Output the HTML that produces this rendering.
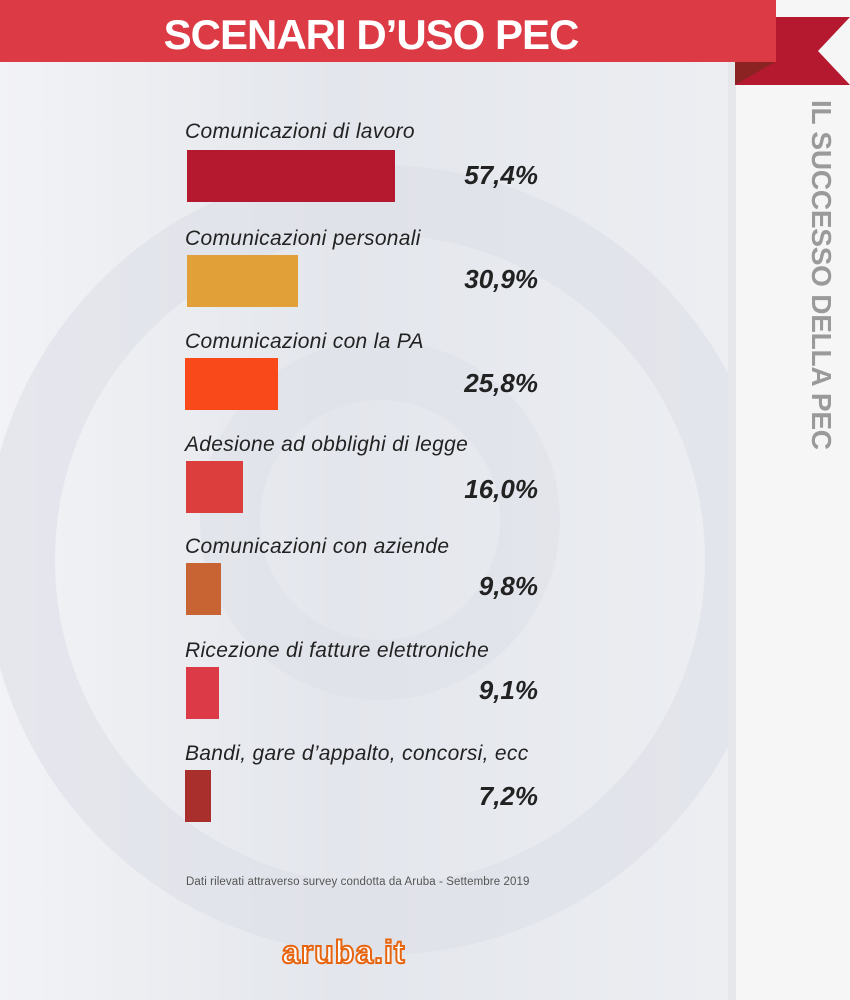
<!DOCTYPE html>
<html><head><meta charset="utf-8"><style>
body{margin:0}
#c{position:relative;width:850px;height:1000px;overflow:hidden;background:linear-gradient(90deg,#f2f3f6 0%,#e3e6ec 40%,#eceef2 85%);font-family:"Liberation Sans",sans-serif}
.lab{position:absolute;left:185px;font-size:21px;font-style:italic;color:#222;letter-spacing:0.3px}
.bar{position:absolute;height:52px}
.val{position:absolute;right:312px;font-size:26px;font-weight:bold;font-style:italic;color:#222}
</style></head><body><div id="c">
<svg style="position:absolute;left:0;top:0" width="850" height="1000">
<circle cx="380" cy="560" r="360" fill="none" stroke="#dde0e7" stroke-width="70" opacity="0.6"/>
<circle cx="380" cy="520" r="150" fill="none" stroke="#dde0e7" stroke-width="60" opacity="0.5"/>
<rect x="735" y="0" width="115" height="1000" fill="#f6f6f7"/>
<rect x="728" y="0" width="8" height="1000" fill="#e6e7ea"/>
<polygon points="735,17 850,17 818,51 850,85 735,85" fill="#b5192f"/>
<polygon points="735,62 775,62 735,85" fill="#8c2323"/>
<rect x="0" y="0" width="776" height="62" fill="#dc3a45"/>
<text x="371" y="49" text-anchor="middle" font-family="Liberation Sans" font-weight="bold" font-size="42" fill="#fff" letter-spacing="-1">SCENARI D’USO PEC</text>
<text transform="translate(812,100) rotate(90)" font-family="Liberation Sans" font-weight="bold" font-size="28" fill="#9a9a9a" textLength="350">IL SUCCESSO DELLA PEC</text>
</svg>
<div class="lab" style="top:120px">Comunicazioni di lavoro</div>
<div class="bar" style="left:187px;top:150px;width:208px;background:#b5192f"></div>
<div class="val" style="top:160px">57,4%</div>
<div class="lab" style="top:227px">Comunicazioni personali</div>
<div class="bar" style="left:187px;top:255px;width:111px;background:#e1a038"></div>
<div class="val" style="top:264px">30,9%</div>
<div class="lab" style="top:330px">Comunicazioni con la PA</div>
<div class="bar" style="left:185px;top:358px;width:93px;background:#f9481a"></div>
<div class="val" style="top:368px">25,8%</div>
<div class="lab" style="top:433px">Adesione ad obblighi di legge</div>
<div class="bar" style="left:186px;top:461px;width:57px;background:#dc3d3d"></div>
<div class="val" style="top:474px">16,0%</div>
<div class="lab" style="top:535px">Comunicazioni con aziende</div>
<div class="bar" style="left:186px;top:563px;width:35px;background:#c86434"></div>
<div class="val" style="top:571px">9,8%</div>
<div class="lab" style="top:639px">Ricezione di fatture elettroniche</div>
<div class="bar" style="left:186px;top:667px;width:33px;background:#dc3a47"></div>
<div class="val" style="top:675px">9,1%</div>
<div class="lab" style="top:742px">Bandi, gare d’appalto, concorsi, ecc</div>
<div class="bar" style="left:185px;top:770px;width:26px;background:#a82f2c"></div>
<div class="val" style="top:781px">7,2%</div>
<div style="position:absolute;left:186px;top:876px;font-size:11.5px;color:#555;letter-spacing:0.1px">Dati rilevati attraverso survey condotta da Aruba - Settembre 2019</div>
<div style="position:absolute;left:282px;top:934px;font-size:32px;font-weight:bold;color:#fff;-webkit-text-stroke:2px #e8650f;letter-spacing:1px">aruba.it</div>
</div></body></html>
